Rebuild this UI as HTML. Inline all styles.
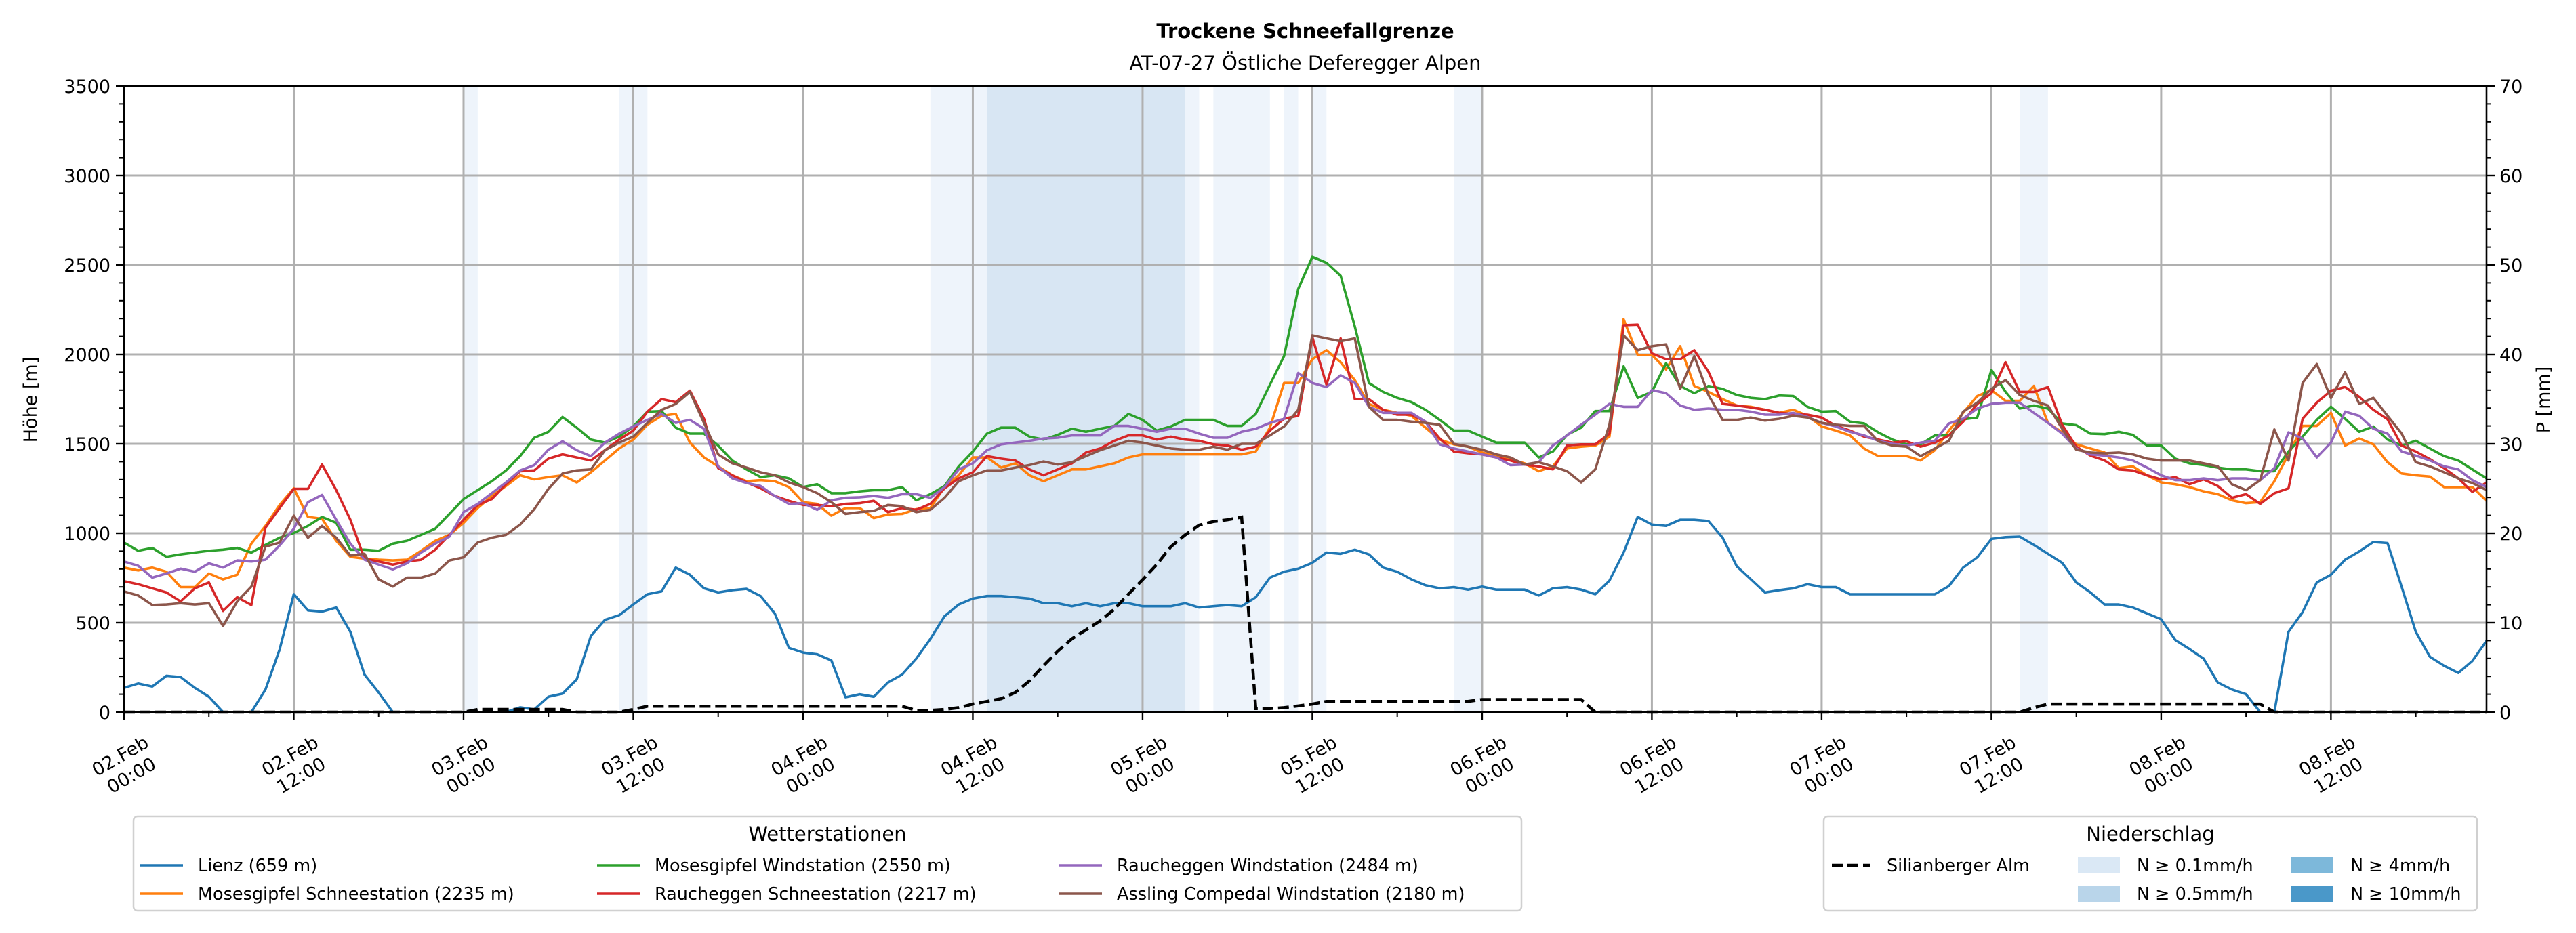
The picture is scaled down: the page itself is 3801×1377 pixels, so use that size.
<!DOCTYPE html>
<html><head><meta charset="utf-8"><style>
html,body{margin:0;padding:0;background:#fff;width:3801px;height:1377px;overflow:hidden;}
svg{display:block;font-family:"DejaVu Sans","Liberation Sans",sans-serif;overflow:hidden;}
</style></head><body>
<svg id="chart" width="3801" height="1377" viewBox="0 0 3801 1377" xmlns="http://www.w3.org/2000/svg">
<rect width="3801" height="1377" fill="#fff"/>
<text x="1926" y="56" text-anchor="middle" font-size="29" font-weight="bold">Trockene Schneefallgrenze</text>
<text x="1926" y="103" text-anchor="middle" font-size="29">AT-07-27 Östliche Deferegger Alpen</text>
<g id="bands"></g>
<g id="grid"></g>
<g id="series"></g>
<g id="axes"></g>
<text transform="translate(54,590) rotate(-90)" text-anchor="middle" font-size="27">Höhe [m]</text>
<text transform="translate(3762,590) rotate(-90)" text-anchor="middle" font-size="27">P [mm]</text>
<g id="legend1">
<rect x="197" y="1205" width="2048" height="139" rx="6" fill="#fff" stroke="#d0d0d0" stroke-width="2.5"/>
<text x="1221" y="1241" text-anchor="middle" font-size="29">Wetterstationen</text>
</g>
<g id="legend2">
<rect x="2691" y="1205" width="964" height="139" rx="6" fill="#fff" stroke="#d0d0d0" stroke-width="2.5"/>
<text x="3173" y="1241" text-anchor="middle" font-size="29">Niederschlag</text>
</g>
</svg>
<script>
const hourLabels = ["02.Feb|00:00","02.Feb|12:00","03.Feb|00:00","03.Feb|12:00","04.Feb|00:00","04.Feb|12:00","05.Feb|00:00","05.Feb|12:00","06.Feb|00:00","06.Feb|12:00","07.Feb|00:00","07.Feb|12:00","08.Feb|00:00","08.Feb|12:00"];
const yTicks = [0,500,1000,1500,2000,2500,3000,3500];
const y2Ticks = [0,10,20,30,40,50,60,70];
const seriesNames = ["Lienz (659 m)","Mosesgipfel Schneestation (2235 m)","Mosesgipfel Windstation (2550 m)","Raucheggen Schneestation (2217 m)","Raucheggen Windstation (2484 m)","Assling Compedal Windstation (2180 m)"];
const seriesColors = ["#1f77b4","#ff7f0e","#2ca02c","#d62728","#9467bd","#8c564b"];
const lienz = [136,160,143,203,196,136,86,0,0,0,126,350,659,569,562,585,449,210,110,0,
0,0,0,0,0,0,0,0,27,15,86,103,183,426,516,542,602,659,675,808,
768,692,669,682,689,649,552,359,333,323,289,83,100,86,166,210,299,409,536,602,
635,649,649,642,635,609,609,592,609,592,609,609,592,592,592,609,585,592,599,592,
642,752,785,802,835,892,885,908,882,808,785,742,709,692,699,685,702,685,685,685,
652,692,699,685,659,735,892,1091,1048,1041,1075,1075,1068,975,815,742,669,682,692,715,
699,699,659,659,659,659,659,659,659,705,808,865,968,978,981,935,885,835,725,669,
602,602,585,552,519,403,353,299,166,126,100,0,0,449,559,725,768,852,898,951,
945,700,449,309,259,219,286,399];
const mosesSchnee = [808,792,808,785,699,699,775,742,768,942,
1041,1158,1251,1091,1081,958,868,858,852,848,
852,902,958,991,1058,1141,1208,1264,1324,1301,
1314,1324,1284,1341,1407,1474,1524,1607,1657,1667,
1507,1424,1374,1324,1291,1297,1291,1258,1174,1164,
1098,1141,1141,1085,1105,1108,1135,1141,1258,1324,
1424,1424,1367,1391,1324,1291,1324,1357,1357,1374,
1391,1424,1441,1441,1441,1441,1441,1441,1441,1441,
1457,1590,1840,1840,1973,2023,1956,1856,1723,1690,
1673,1657,1590,1524,1497,1484,1451,1431,1414,1391,
1347,1374,1474,1484,1490,1540,2196,1997,1997,1916,
2046,1823,1790,1750,1714,1707,1690,1673,1690,1657,
1597,1574,1547,1474,1431,1431,1431,1407,1464,1574,
1673,1767,1800,1740,1740,1823,1617,1564,1497,1474,
1451,1364,1374,1324,1284,1274,1258,1234,1218,1184,
1168,1174,1291,1441,1600,1600,1673,1490,1530,1497,
1397,1334,1324,1317,1258,1258,1258,1181];
const mosesWind = [948,902,918,868,882,892,902,908,918,892,
935,975,1001,1041,1091,1058,908,908,902,942,
958,991,1025,1108,1191,1241,1291,1351,1431,1534,
1567,1650,1590,1524,1507,1540,1597,1680,1683,1590,
1557,1557,1490,1407,1357,1314,1324,1307,1258,1274,
1224,1224,1234,1241,1241,1258,1184,1218,1264,1374,
1457,1557,1590,1590,1540,1524,1550,1584,1567,1584,
1600,1667,1634,1574,1597,1634,1634,1634,1600,1600,
1667,1830,1990,2366,2545,2512,2439,2156,1840,1790,
1757,1733,1690,1634,1574,1574,1540,1507,1507,1507,
1424,1457,1550,1590,1683,1683,1933,1757,1790,1950,
1823,1783,1823,1807,1773,1757,1750,1770,1767,1707,
1680,1683,1624,1614,1564,1524,1497,1497,1547,1547,
1637,1647,1913,1790,1697,1714,1697,1614,1604,1557,
1554,1567,1550,1490,1490,1417,1391,1381,1367,1357,
1357,1347,1347,1457,1540,1634,1707,1640,1567,1597,
1524,1490,1517,1474,1431,1407,1357,1307];
const rauchSchnee = [732,715,692,669,619,692,725,566,642,599,
1031,1141,1248,1248,1384,1241,1075,858,842,825,
842,852,908,991,1075,1158,1191,1274,1347,1351,
1417,1441,1424,1407,1464,1524,1574,1680,1750,1733,
1797,1640,1364,1324,1284,1251,1208,1181,1158,1158,
1151,1164,1168,1181,1118,1141,1131,1164,1251,1307,
1341,1431,1417,1407,1357,1324,1357,1391,1451,1474,
1517,1547,1547,1524,1540,1524,1517,1497,1490,1467,
1484,1574,1640,1657,2096,1830,2089,1750,1750,1690,
1663,1663,1624,1530,1457,1447,1441,1424,1407,1384,
1374,1357,1490,1497,1497,1557,2163,2166,2006,1973,
1973,2023,1903,1723,1714,1703,1690,1673,1667,1663,
1647,1600,1574,1540,1524,1507,1514,1484,1507,1547,
1624,1723,1783,1956,1790,1790,1817,1607,1484,1434,
1407,1357,1351,1324,1301,1314,1274,1301,1264,1198,
1218,1164,1224,1251,1640,1730,1797,1817,1763,1690,
1637,1490,1457,1414,1364,1307,1231,1284];
const rauchWind = [842,818,752,775,802,785,832,808,848,842,
852,932,1025,1174,1214,1075,942,852,825,798,
832,892,942,981,1118,1164,1224,1284,1351,1381,
1467,1514,1464,1431,1507,1557,1597,1634,1667,1617,
1634,1584,1374,1307,1281,1264,1208,1164,1168,1131,
1184,1198,1201,1208,1198,1218,1218,1198,1258,1357,
1391,1464,1497,1507,1517,1530,1534,1547,1547,1547,
1600,1600,1584,1567,1584,1584,1557,1534,1534,1567,
1584,1617,1640,1896,1840,1817,1883,1840,1707,1673,
1673,1673,1624,1497,1474,1457,1441,1424,1381,1384,
1397,1490,1547,1607,1663,1723,1707,1707,1800,1783,
1714,1690,1697,1690,1690,1680,1663,1663,1673,1650,
1617,1597,1567,1547,1517,1500,1490,1507,1517,1614,
1640,1697,1723,1730,1730,1673,1617,1557,1474,1441,
1434,1424,1407,1367,1324,1297,1297,1307,1297,1307,
1307,1297,1364,1564,1530,1424,1507,1680,1657,1584,
1557,1457,1434,1407,1374,1357,1297,1258];
const assling = [675,652,599,602,609,602,609,482,619,702,
925,948,1098,975,1041,975,875,885,742,702,
752,752,775,848,865,948,975,991,1048,1135,
1248,1334,1351,1357,1464,1507,1540,1617,1690,1723,
1790,1617,1441,1391,1367,1341,1324,1284,1258,1224,
1174,1108,1118,1125,1158,1151,1118,1131,1198,1291,
1324,1351,1351,1367,1381,1401,1384,1397,1431,1464,
1490,1517,1507,1490,1474,1467,1467,1484,1467,1500,
1500,1547,1597,1690,2106,2089,2073,2089,1707,1634,
1634,1624,1617,1607,1500,1484,1467,1441,1424,1384,
1397,1374,1347,1284,1357,1607,2106,2023,2046,2056,
1807,1990,1773,1634,1634,1647,1630,1640,1657,1647,
1617,1607,1600,1600,1514,1490,1484,1431,1474,1517,
1680,1730,1807,1856,1773,1740,1714,1584,1467,1451,
1447,1451,1441,1417,1407,1407,1407,1391,1374,1274,
1241,1297,1580,1407,1840,1946,1757,1900,1723,1757,
1657,1557,1397,1374,1341,1307,1281,1241];
const precip = [0,0,0,0,0,0,0,0,0,0,0,0,0,0,0,0,0,0,0,0,0,0,0,0,0,
0.3,0.3,0.3,0.3,0.3,0.3,0.3,0,0,0,0,0.3,
0.66,0.66,0.66,0.66,0.66,0.66,0.66,0.66,0.66,0.66,0.66,0.66,0.66,0.66,0.66,0.66,0.66,0.66,0.66,
0.2,0.2,0.3,0.5,0.9,1.2,1.5,2.2,3.5,5.2,6.8,8.2,9.2,10.2,11.5,13.2,14.8,16.5,18.5,19.8,20.9,21.3,21.5,21.8,
0.4,0.4,0.5,0.7,0.9,
1.2,1.2,1.2,1.2,1.2,1.2,1.2,1.2,1.2,1.2,1.2,
1.4,1.4,1.4,1.4,1.4,1.4,1.4,1.4,
0,0,0,0,0,0,0,0,0,0,0,0,0,0,0,0,0,0,0,0,0,0,0,0,0,0,0,0,0,0,0,
0.5,
0.9,0.9,0.9,0.9,0.9,0.9,0.9,0.9,0.9,0.9,0.9,0.9,0.9,0.9,0.9,0.9,
0,0,0,0,0,0,0,0,0,0,0,0,0,0,0,0];
const bandStart = [24,35,57,61,75,77,82,84,94,134];
const bandEnd = [25,37,61,75,76,81,83,85,96,136];
const bandLevel = [0,0,0,1,0,0,0,0,0,0];

const NS="http://www.w3.org/2000/svg";
const L=183,R=3669,T=127,B=1051;
const X=h=>L+(R-L)*h/167;
const Y=v=>B-(B-T)*v/3500;
const Y2=v=>B-(B-T)*v/70;
function mk(tag,parent,attrs){const e=document.createElementNS(NS,tag);for(const k in attrs)e.setAttribute(k,attrs[k]);parent.appendChild(e);return e;}
const gB=document.getElementById('bands'),gG=document.getElementById('grid'),gS=document.getElementById('series'),gA=document.getElementById('axes');
const bandColors=["#eef4fb","#d8e6f3"];
for(let i=0;i<bandStart.length;i++){
  const r=mk('rect',gB,{x:X(bandStart[i]),y:T,width:X(bandEnd[i])-X(bandStart[i]),height:B-T,fill:bandColors[bandLevel[i]]});
  
  
}
yTicks.forEach(v=>{const l=mk('line',gG,{x1:L,x2:R,y1:Y(v),y2:Y(v),stroke:'#b0b0b0','stroke-width':3});
  
  });
hourLabels.forEach((s,i)=>{const l=mk('line',gG,{x1:X(i*12),x2:X(i*12),y1:T,y2:B,stroke:'#b0b0b0','stroke-width':3});
  
  });
const allSeries=[lienz,mosesSchnee,mosesWind,rauchSchnee,rauchWind,assling];
const seriesKeys=['lienz','moses-schnee','moses-wind','raucheggen-schnee','raucheggen-wind','assling'];
allSeries.forEach((arr,si)=>{
  const d=arr.map((v,h)=>(h?'L':'M')+X(h).toFixed(1)+' '+Y(v).toFixed(1)).join(' ');
  const p=mk('path',gS,{d:d,fill:'none',stroke:seriesColors[si],'stroke-width':3.6,'stroke-linejoin':'round'});
  
  
});
{const d=precip.map((v,h)=>(h?'L':'M')+X(h).toFixed(1)+' '+Y2(v).toFixed(1)).join(' ');
 const p=mk('path',gS,{d:d,fill:'none',stroke:'#000','stroke-width':4.5,'stroke-dasharray':'16 7'});
 
 }
mk('rect',gA,{x:L,y:T,width:R-L,height:B-T,fill:'none',stroke:'#000','stroke-width':2.6});
for(let v=0;v<=3500;v+=100){const maj=v%500===0;mk('line',gA,{x1:L,x2:L-(maj?12:7),y1:Y(v),y2:Y(v),stroke:'#000','stroke-width':maj?2.4:2});}
for(let v=0;v<=70;v+=2){const maj=v%10===0;mk('line',gA,{x1:R,x2:R+(maj?12:7),y1:Y2(v),y2:Y2(v),stroke:'#000','stroke-width':maj?2.4:2});}
yTicks.forEach(v=>{const t=mk('text',gA,{x:L-20,y:Y(v)+10,'text-anchor':'end','font-size':27});t.textContent=v;
  
  });
y2Ticks.forEach(v=>{const t=mk('text',gA,{x:R+19,y:Y2(v)+10,'text-anchor':'start','font-size':27});t.textContent=v;
  
  });
for(let h=0;h<=166;h+=6){const maj=h%12===0;mk('line',gA,{x1:X(h),x2:X(h),y1:B,y2:B+(maj?12:7),stroke:'#000','stroke-width':maj?2.4:2});}
hourLabels.forEach((s,i)=>{
  const parts=s.split('|');
  const g=mk('g',gA,{transform:`translate(${X(i*12)+2},1129) rotate(-30)`});
  
  
  const a=mk('text',g,{x:0,y:-6,'text-anchor':'middle','font-size':27});a.textContent=parts[0];
  const b=mk('text',g,{x:0,y:27,'text-anchor':'middle','font-size':27});b.textContent=parts[1];
});
const lg1=document.getElementById('legend1');
const lx=[207,881,1563],ly=[1277,1319];
const order=[[0,0,0],[1,0,1],[2,1,0],[3,1,1],[4,2,0],[5,2,1]];
order.forEach(([si,c,r])=>{
  const g=mk('g',lg1,{});
  
  
  mk('line',g,{x1:lx[c],x2:lx[c]+63,y1:ly[r],y2:ly[r],stroke:seriesColors[si],'stroke-width':3.6});
  const t=mk('text',g,{x:lx[c]+85,y:ly[r]+9,'font-size':25.5});t.textContent=seriesNames[si];
});
const lg2=document.getElementById('legend2');
{const g=mk('g',lg2,{});
 
 
 mk('line',g,{x1:2703,x2:2760,y1:1277,y2:1277,stroke:'#000','stroke-width':4.5,'stroke-dasharray':'16 7'});
 const t=mk('text',g,{x:2784,y:1286,'font-size':25.5});t.textContent='Silianberger Alm';}
const pl=[["N ≥ 0.1mm/h","#dae8f5",3066,1277],["N ≥ 0.5mm/h","#b9d5ea",3066,1319],["N ≥ 4mm/h","#7db8da",3381,1277],["N ≥ 10mm/h","#4a98c9",3381,1319]];
pl.forEach(([s,c,x,y])=>{const g=mk('g',lg2,{});
  
  
  mk('rect',g,{x:x,y:y-12,width:62,height:24,fill:c});
  const t=mk('text',g,{x:x+87,y:y+9,'font-size':25.5});t.textContent=s;});
</script>
</body></html>
